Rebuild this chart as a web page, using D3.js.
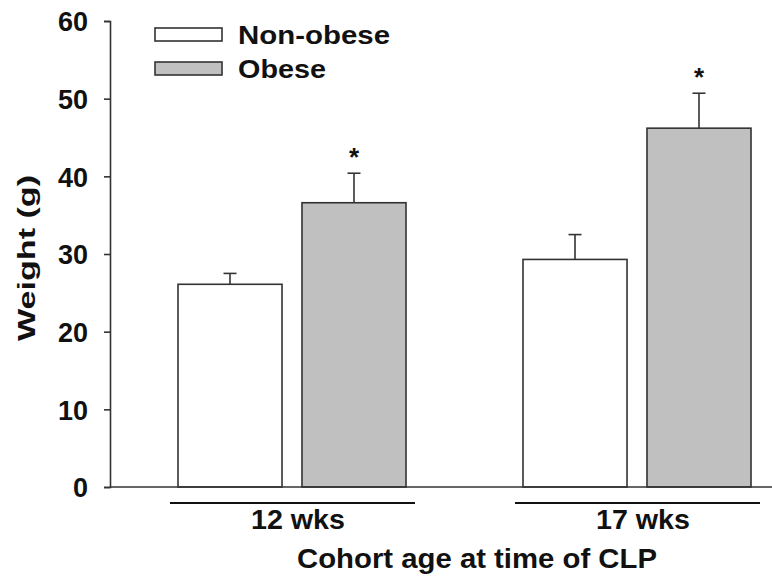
<!DOCTYPE html>
<html>
<head>
<meta charset="utf-8">
<script src="https://cdn.jsdelivr.net/npm/d3@7"></script>
<style>
  body { margin: 0; background: #fff; }
  svg text { font-family: "Liberation Sans", Arial, sans-serif; font-weight: bold; fill: #111; }
</style>
</head>
<body>
<svg width="772" height="578"></svg>
<script>
// data
const groups = ['12 wks', '17 wks'];
const series = ['Non-obese', 'Obese'];
const nonObese = [26.1, 29.3];
const nonObeseErr = [1.4, 3.2];
const obese = [36.6, 46.2];
const obeseErr = [3.8, 4.5];
const significant = ['*', '*'];
const yTicks = [0, 10, 20, 30, 40, 50, 60];

const colors = { 'Non-obese': '#ffffff', 'Obese': '#c0c0c0' };

const data = [];
groups.forEach((g, i) => {
  data.push({ group: g, series: 'Non-obese', value: nonObese[i], err: nonObeseErr[i], mark: '' });
  data.push({ group: g, series: 'Obese', value: obese[i], err: obeseErr[i], mark: significant[i] });
});

const svg = d3.select('svg');

const yScale = d3.scaleLinear()
  .domain([0, 60])
  .range([487, 21]);

const xGroup = d3.scalePoint()
  .domain(groups)
  .range([292, 637]);

const xSeries = d3.scaleBand()
  .domain(series)
  .range([-114, 114])
  .paddingInner(0.161);

// bars
svg.selectAll('.bar')
  .data(data)
  .enter()
  .append('rect')
  .classed('bar', true)
  .attr('x', d => xGroup(d.group) + xSeries(d.series))
  .attr('y', d => yScale(d.value))
  .attr('width', xSeries.bandwidth())
  .attr('height', d => yScale(0) - yScale(d.value))
  .attr('fill', d => colors[d.series])
  .attr('stroke', '#333')
  .attr('stroke-width', 1.6);

// error bars (upper only)
const errs = svg.append('g').attr('stroke', '#333').attr('stroke-width', 1.6);
data.forEach(d => {
  const cx = xGroup(d.group) + xSeries(d.series) + xSeries.bandwidth() / 2;
  errs.append('line')
    .attr('x1', cx).attr('x2', cx)
    .attr('y1', yScale(d.value)).attr('y2', yScale(d.value + d.err));
  errs.append('line')
    .attr('x1', cx - 6.5).attr('x2', cx + 6.5)
    .attr('y1', yScale(d.value + d.err)).attr('y2', yScale(d.value + d.err));
  if (d.mark) {
    svg.append('text')
      .attr('x', cx)
      .attr('y', yScale(d.value + d.err) - 7)
      .attr('text-anchor', 'middle')
      .style('font-size', '26px')
      .text(d.mark);
  }
});

// y axis
const yAxis = svg.append('g')
  .attr('transform', 'translate(110,0)')
  .call(d3.axisLeft(yScale).tickValues(yTicks).tickSize(6).tickPadding(16));
yAxis.select('.domain').attr('stroke', '#333').attr('stroke-width', 1.6);
yAxis.selectAll('.tick line').attr('stroke', '#333').attr('stroke-width', 1.6);
yAxis.selectAll('.tick text').style('font-size', '27px').attr('dy', '0.36em');

// x baseline
svg.append('line')
  .attr('x1', 110).attr('x2', 772)
  .attr('y1', yScale(0)).attr('y2', yScale(0))
  .attr('stroke', '#333').attr('stroke-width', 1.6);

// group underlines and labels
groups.forEach(g => {
  const c = xGroup(g);
  svg.append('line')
    .attr('x1', c - 122).attr('x2', c + 123)
    .attr('y1', 503).attr('y2', 503)
    .attr('stroke', '#111').attr('stroke-width', 2.2);
  svg.append('text')
    .attr('x', c + 6)
    .attr('y', 529)
    .attr('text-anchor', 'middle')
    .attr('textLength', 94)
    .attr('lengthAdjust', 'spacingAndGlyphs')
    .style('font-size', '28px')
    .text(g);
});

// axis titles
svg.append('text')
  .attr('x', 477)
  .attr('y', 568)
  .attr('text-anchor', 'middle')
  .attr('textLength', 360)
  .attr('lengthAdjust', 'spacingAndGlyphs')
  .style('font-size', '28px')
  .text('Cohort age at time of CLP');

svg.append('text')
  .attr('transform', 'translate(35,258) rotate(-90)')
  .attr('text-anchor', 'middle')
  .attr('textLength', 166)
  .attr('lengthAdjust', 'spacingAndGlyphs')
  .style('font-size', '24px')
  .text('Weight (g)');

// legend
const legendLen = [152, 88];
const legend = svg.append('g');
series.forEach((s, i) => {
  const y = 28 + i * 34;
  legend.append('rect')
    .attr('x', 155).attr('y', y)
    .attr('width', 67).attr('height', 13)
    .attr('fill', colors[s])
    .attr('stroke', '#333').attr('stroke-width', 1.6);
  legend.append('text')
    .attr('x', 238).attr('y', y + 16)
    .attr('textLength', legendLen[i])
    .attr('lengthAdjust', 'spacingAndGlyphs')
    .style('font-size', '25px')
    .text(s);
});
</script>
</body>
</html>
